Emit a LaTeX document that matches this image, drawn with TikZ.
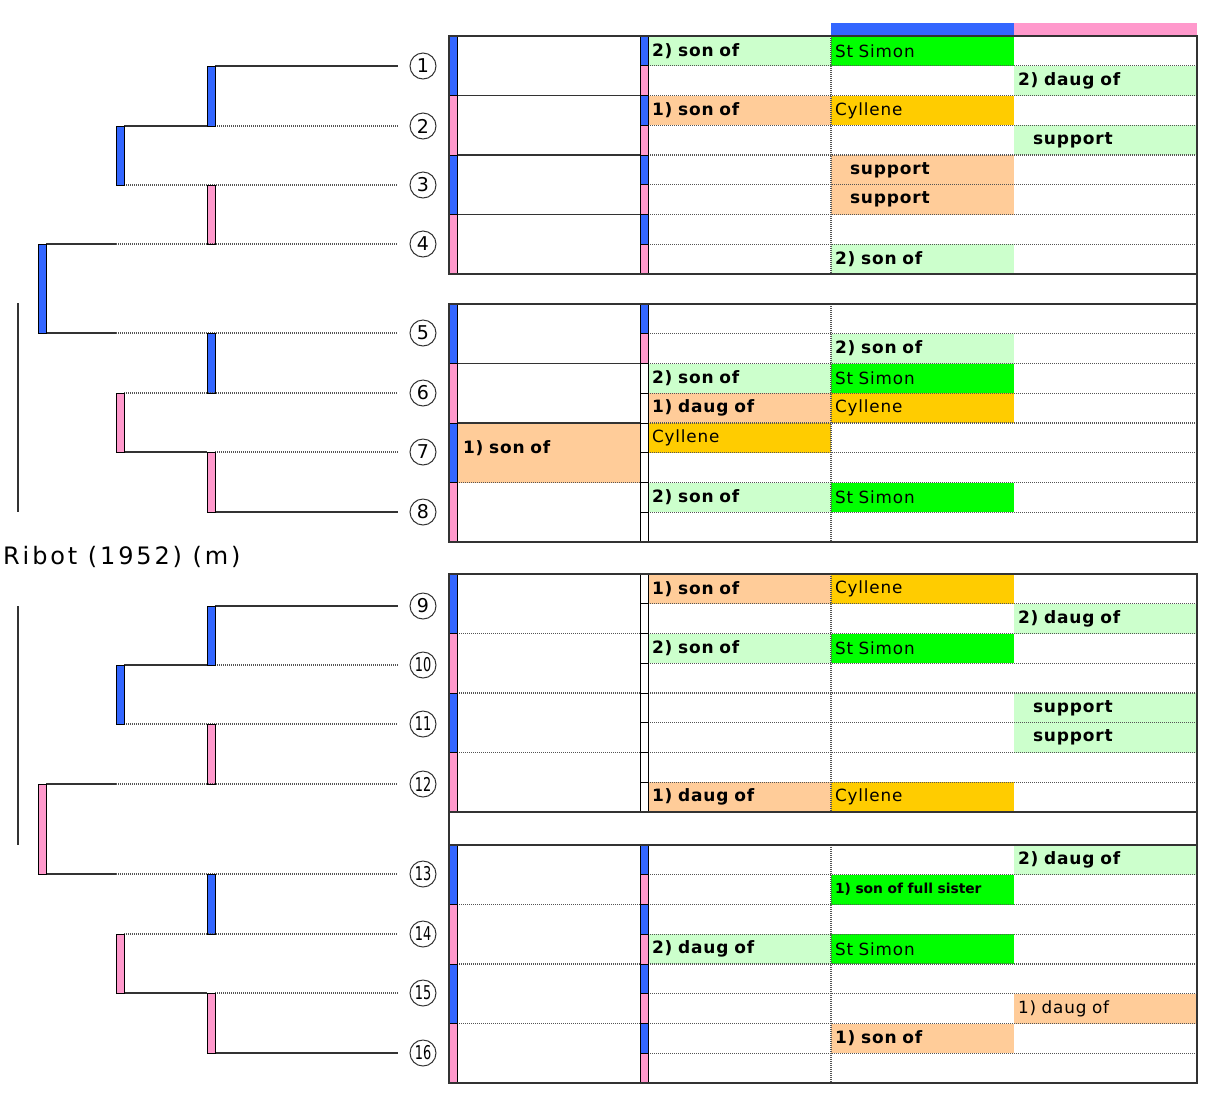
\documentclass[tikz,border=0pt]{standalone}
\usepackage{fontspec}
\usepackage{graphicx}
\setmainfont{DejaVu Sans}
\newfontfamily\cellfont[LetterSpace=5]{DejaVu Sans}
\newfontfamily\namefont[LetterSpace=12]{DejaVu Sans}
\usetikzlibrary{positioning}
\definecolor{barblue}{HTML}{3366FF}
\definecolor{barpink}{HTML}{FF99CC}
\definecolor{lgreen}{HTML}{CCFFCC}
\definecolor{sgreen}{HTML}{00FF00}
\definecolor{peach}{HTML}{FFCC99}
\definecolor{gold}{HTML}{FFCC00}
\definecolor{ink}{HTML}{333333}
\definecolor{dotgray}{HTML}{555555}
\begin{document}
\begin{tikzpicture}[x=1pt, y=-1pt,
    main/.style = {draw=ink, circle, line width=1pt, minimum size=26pt, inner sep=0pt, font=\fontsize{19}{19}\selectfont},
    bar/.style = {draw=black, line width=1pt, minimum width=8pt, inner sep=0pt, outer sep=0pt},
    strip/.style = {bar, minimum height=29.75pt},
    solidlink/.style = {draw=ink, line width=1.3pt},
    dotlink/.style = {draw=dotgray, line width=1.2pt, dash pattern=on 1pt off 1pt},
    tocircle/.style = {shorten >=12pt},
    boxline/.style = {draw=ink, line width=1.4pt},
    fillcell/.style = {anchor=north west, text width=175pt, inner xsep=4pt, inner ysep=0pt, outer sep=0pt, minimum height=29.75pt, align=left, font=\cellfont\bfseries\fontsize{17}{17}\selectfont},
    horse/.style = {fillcell, font=\cellfont\fontsize{16.8}{16.8}\selectfont},
  ]
\useasboundingbox (0,0) rectangle (1210,1096);

% pedigree tree
\foreach \n/\y in {1/66,2/126,3/185,4/244,5/333,6/393,7/452,8/512,9/606,10/665,11/724,12/784,13/874,14/934,15/993,16/1053}
  \node[main] (\n) at (423,\y) {\ifnum\n>9 \scalebox{0.68}[1]{\n}\else\n\fi};

\node[bar, fill=barblue, minimum height=60pt] (t12) at (211,96) {};
\node[bar, fill=barblue, minimum height=59pt] (t14) at (120,155.5) {};
\node[bar, fill=barpink, minimum height=59pt] (t34) at (211,214.5) {};
\node[bar, fill=barblue, minimum height=89pt] (t18) at (42,288.5) {};
\node[bar, fill=barblue, minimum height=60pt] (t56) at (211,363) {};
\node[bar, fill=barpink, minimum height=59pt] (t58) at (120,422.5) {};
\node[bar, fill=barpink, minimum height=60pt] (t78) at (211,482) {};

\node[bar, fill=barblue, minimum height=59pt] (t910) at (211,635.5) {};
\node[bar, fill=barblue, minimum height=59pt] (t912) at (120,694.5) {};
\node[bar, fill=barpink, minimum height=60pt] (t1112) at (211,754) {};
\node[bar, fill=barpink, minimum height=90pt] (t916) at (42,829) {};
\node[bar, fill=barblue, minimum height=60pt] (t1314) at (211,904) {};
\node[bar, fill=barpink, minimum height=59pt] (t1316) at (120,963.5) {};
\node[bar, fill=barpink, minimum height=60pt] (t1516) at (211,1023) {};

\draw[solidlink, tocircle] (t12.north east) -- (1);
\draw[solidlink] (t14.north east) -- (t12.south west);
\draw[dotlink, tocircle] (t12.south east) -- (2);
\draw[dotlink, tocircle] (t14.south east) -- (3);
\draw[solidlink] (t18.north east) -- ++(70,0) coordinate (k4);
\draw[dotlink, tocircle] (k4) -- (4);
\draw[solidlink] (t18.south east) -- ++(70,0) coordinate (k5);
\draw[dotlink, tocircle] (k5) -- (5);
\draw[dotlink, tocircle] (t58.north east) -- (6);
\draw[solidlink] (t58.south east) -- (t78.north west);
\draw[dotlink, tocircle] (t78.north east) -- (7);
\draw[solidlink, tocircle] (t78.south east) -- (8);

\draw[solidlink, tocircle] (t910.north east) -- (9);
\draw[solidlink] (t912.north east) -- (t910.south west);
\draw[dotlink, tocircle] (t910.south east) -- (10);
\draw[dotlink, tocircle] (t912.south east) -- (11);
\draw[solidlink] (t916.north east) -- ++(70,0) coordinate (k12);
\draw[dotlink, tocircle] (k12) -- (12);
\draw[solidlink] (t916.south east) -- ++(70,0) coordinate (k13);
\draw[dotlink, tocircle] (k13) -- (13);
\draw[dotlink, tocircle] (t1316.north east) -- (14);
\draw[solidlink] (t1316.south east) -- (t1516.north west);
\draw[dotlink, tocircle] (t1516.north east) -- (15);
\draw[solidlink, tocircle] (t1516.south east) -- (16);

% redraw bar outlines over the lines
\foreach \b in {t12,t14,t34,t18,t56,t58,t78,t910,t912,t1112,t916,t1314,t1316,t1516}
  \draw[black, line width=1pt] (\b.north west) rectangle (\b.south east);

\draw[ink, line width=1.3pt] (18,303) -- (18,512);
\draw[ink, line width=1.3pt] (18,606) -- (18,845);
\node[anchor=west, inner sep=0pt, font=\namefont\fontsize{24}{24}\selectfont] (ribot) at (3,557) {Ribot (1952) (m)};

% header
\fill[barblue] (831,23) rectangle (1014,36);
\fill[barpink] (1014,23) rectangle (1197,36);

% block 1
\begin{scope}[shift={(0,36)}]
\node[fillcell, fill=lgreen] (B10) at (648,0) {2) son of};
\node[horse, fill=sgreen] (C10) at (831,0) {St Simon};
\node[fillcell, fill=lgreen] (D11) at (1014,29.75) {2) daug of};
\node[fillcell, fill=peach] (B12) at (648,59.5) {1) son of};
\node[horse, fill=gold] (C12) at (831,59.5) {Cyllene};
\node[fillcell, fill=lgreen] (D13) at (1014,89.25) {\hspace*{15pt}support};
\node[fillcell, fill=peach] (C14) at (831,119) {\hspace*{15pt}support};
\node[fillcell, fill=peach] (C15) at (831,148.75) {\hspace*{15pt}support};
\node[fillcell, fill=lgreen] (C17) at (831,208.25) {2) son of};
\end{scope}

% block 2
\begin{scope}[shift={(0,304)}]
\node[fillcell, fill=lgreen] (C21) at (831,29.75) {2) son of};
\node[fillcell, fill=lgreen] (B22) at (648,59.5) {2) son of};
\node[horse, fill=sgreen] (C22) at (831,59.5) {St Simon};
\node[fillcell, fill=peach] (B23) at (648,89.25) {1) daug of};
\node[horse, fill=gold] (C23) at (831,89.25) {Cyllene};
\node[fillcell, fill=peach, text width=171pt, inner xsep=6pt, minimum height=59.5pt] (A24) at (457,119) {\raisebox{12pt}{1) son of}};
\node[horse, fill=gold] (B24) at (648,119) {Cyllene};
\node[fillcell, fill=lgreen] (B26) at (648,178.5) {2) son of};
\node[horse, fill=sgreen] (C26) at (831,178.5) {St Simon};
\end{scope}

% block 3
\begin{scope}[shift={(0,574)}]
\node[fillcell, fill=peach] (B30) at (648,0) {1) son of};
\node[horse, fill=gold] (C30) at (831,0) {Cyllene};
\node[fillcell, fill=lgreen] (D31) at (1014,29.75) {2) daug of};
\node[fillcell, fill=lgreen] (B32) at (648,59.5) {2) son of};
\node[horse, fill=sgreen] (C32) at (831,59.5) {St Simon};
\node[fillcell, fill=lgreen] (D34) at (1014,119) {\hspace*{15pt}support};
\node[fillcell, fill=lgreen] (D35) at (1014,148.75) {\hspace*{15pt}support};
\node[fillcell, fill=peach] (B37) at (648,208.25) {1) daug of};
\node[horse, fill=gold] (C37) at (831,208.25) {Cyllene};
\end{scope}

% block 4
\begin{scope}[shift={(0,845)}]
\node[fillcell, fill=lgreen] (D40) at (1014,0) {2) daug of};
\node[fillcell, fill=sgreen, font=\bfseries\fontsize{13.8}{13.8}\selectfont] (C41) at (831,29.75) {1) son of full sister};
\node[fillcell, fill=lgreen] (B43) at (648,89.25) {2) daug of};
\node[horse, fill=sgreen] (C43) at (831,89.25) {St Simon};
\node[horse, fill=peach] (D45) at (1014,148.75) {1) daug of};
\node[fillcell, fill=peach] (C46) at (831,178.5) {1) son of};
\end{scope}

% grid
\foreach \t in {36,304,574,845} {
  \foreach \i in {1,...,7}
    \draw[dotlink] (640,\t+\i*29.75) -- (1197,\t+\i*29.75);
  \draw[dotlink] (831,\t) -- (831,\t+238);
}
\draw[boxline] (449,95.5) -- (640,95.5);
\draw[boxline] (449,155) -- (640,155);
\draw[boxline] (449,214.5) -- (640,214.5);
\draw[boxline] (449,363.5) -- (640,363.5);
\draw[boxline] (449,423) -- (640,423);
\foreach \y in {482.5,633.5,693,752.5,904.5,964,1023.5}
  \draw[dotlink] (449,\y) -- (640,\y);

% strips
\foreach \t in {36,304,574,845}
  \foreach \j/\c in {0/barblue,1/barpink,2/barblue,3/barpink}
    \node[bar, fill=\c, minimum height=59.5pt] (a\t-\j) at (453,\t+\j*59.5+29.75) {};
\foreach \t in {36,845}
  \foreach \i in {0,2,4,6} {
    \node[strip, fill=barblue] (s\t-\i) at (644,\t+\i*29.75+14.875) {};
    \node[strip, fill=barpink] (p\t-\i) at (644,\t+\i*29.75+44.625) {};
  }
\node[strip, fill=barblue] (s304-0) at (644,318.875) {};
\node[strip, fill=barpink] (p304-0) at (644,348.625) {};
\foreach \i in {2,...,7}
  \node[strip, fill=white] (w304-\i) at (644,304+\i*29.75+14.875) {};
\foreach \i in {0,...,7}
  \node[strip, fill=white] (w574-\i) at (644,574+\i*29.75+14.875) {};

% frames
\foreach \t in {36,304,574,845}
  \draw[boxline] (449,\t) rectangle (1197,\t+238);
\draw[boxline] (449,812) rectangle (1197,845);
\draw[boxline] (1197,274) -- (1197,304);
\end{tikzpicture}
\end{document}
